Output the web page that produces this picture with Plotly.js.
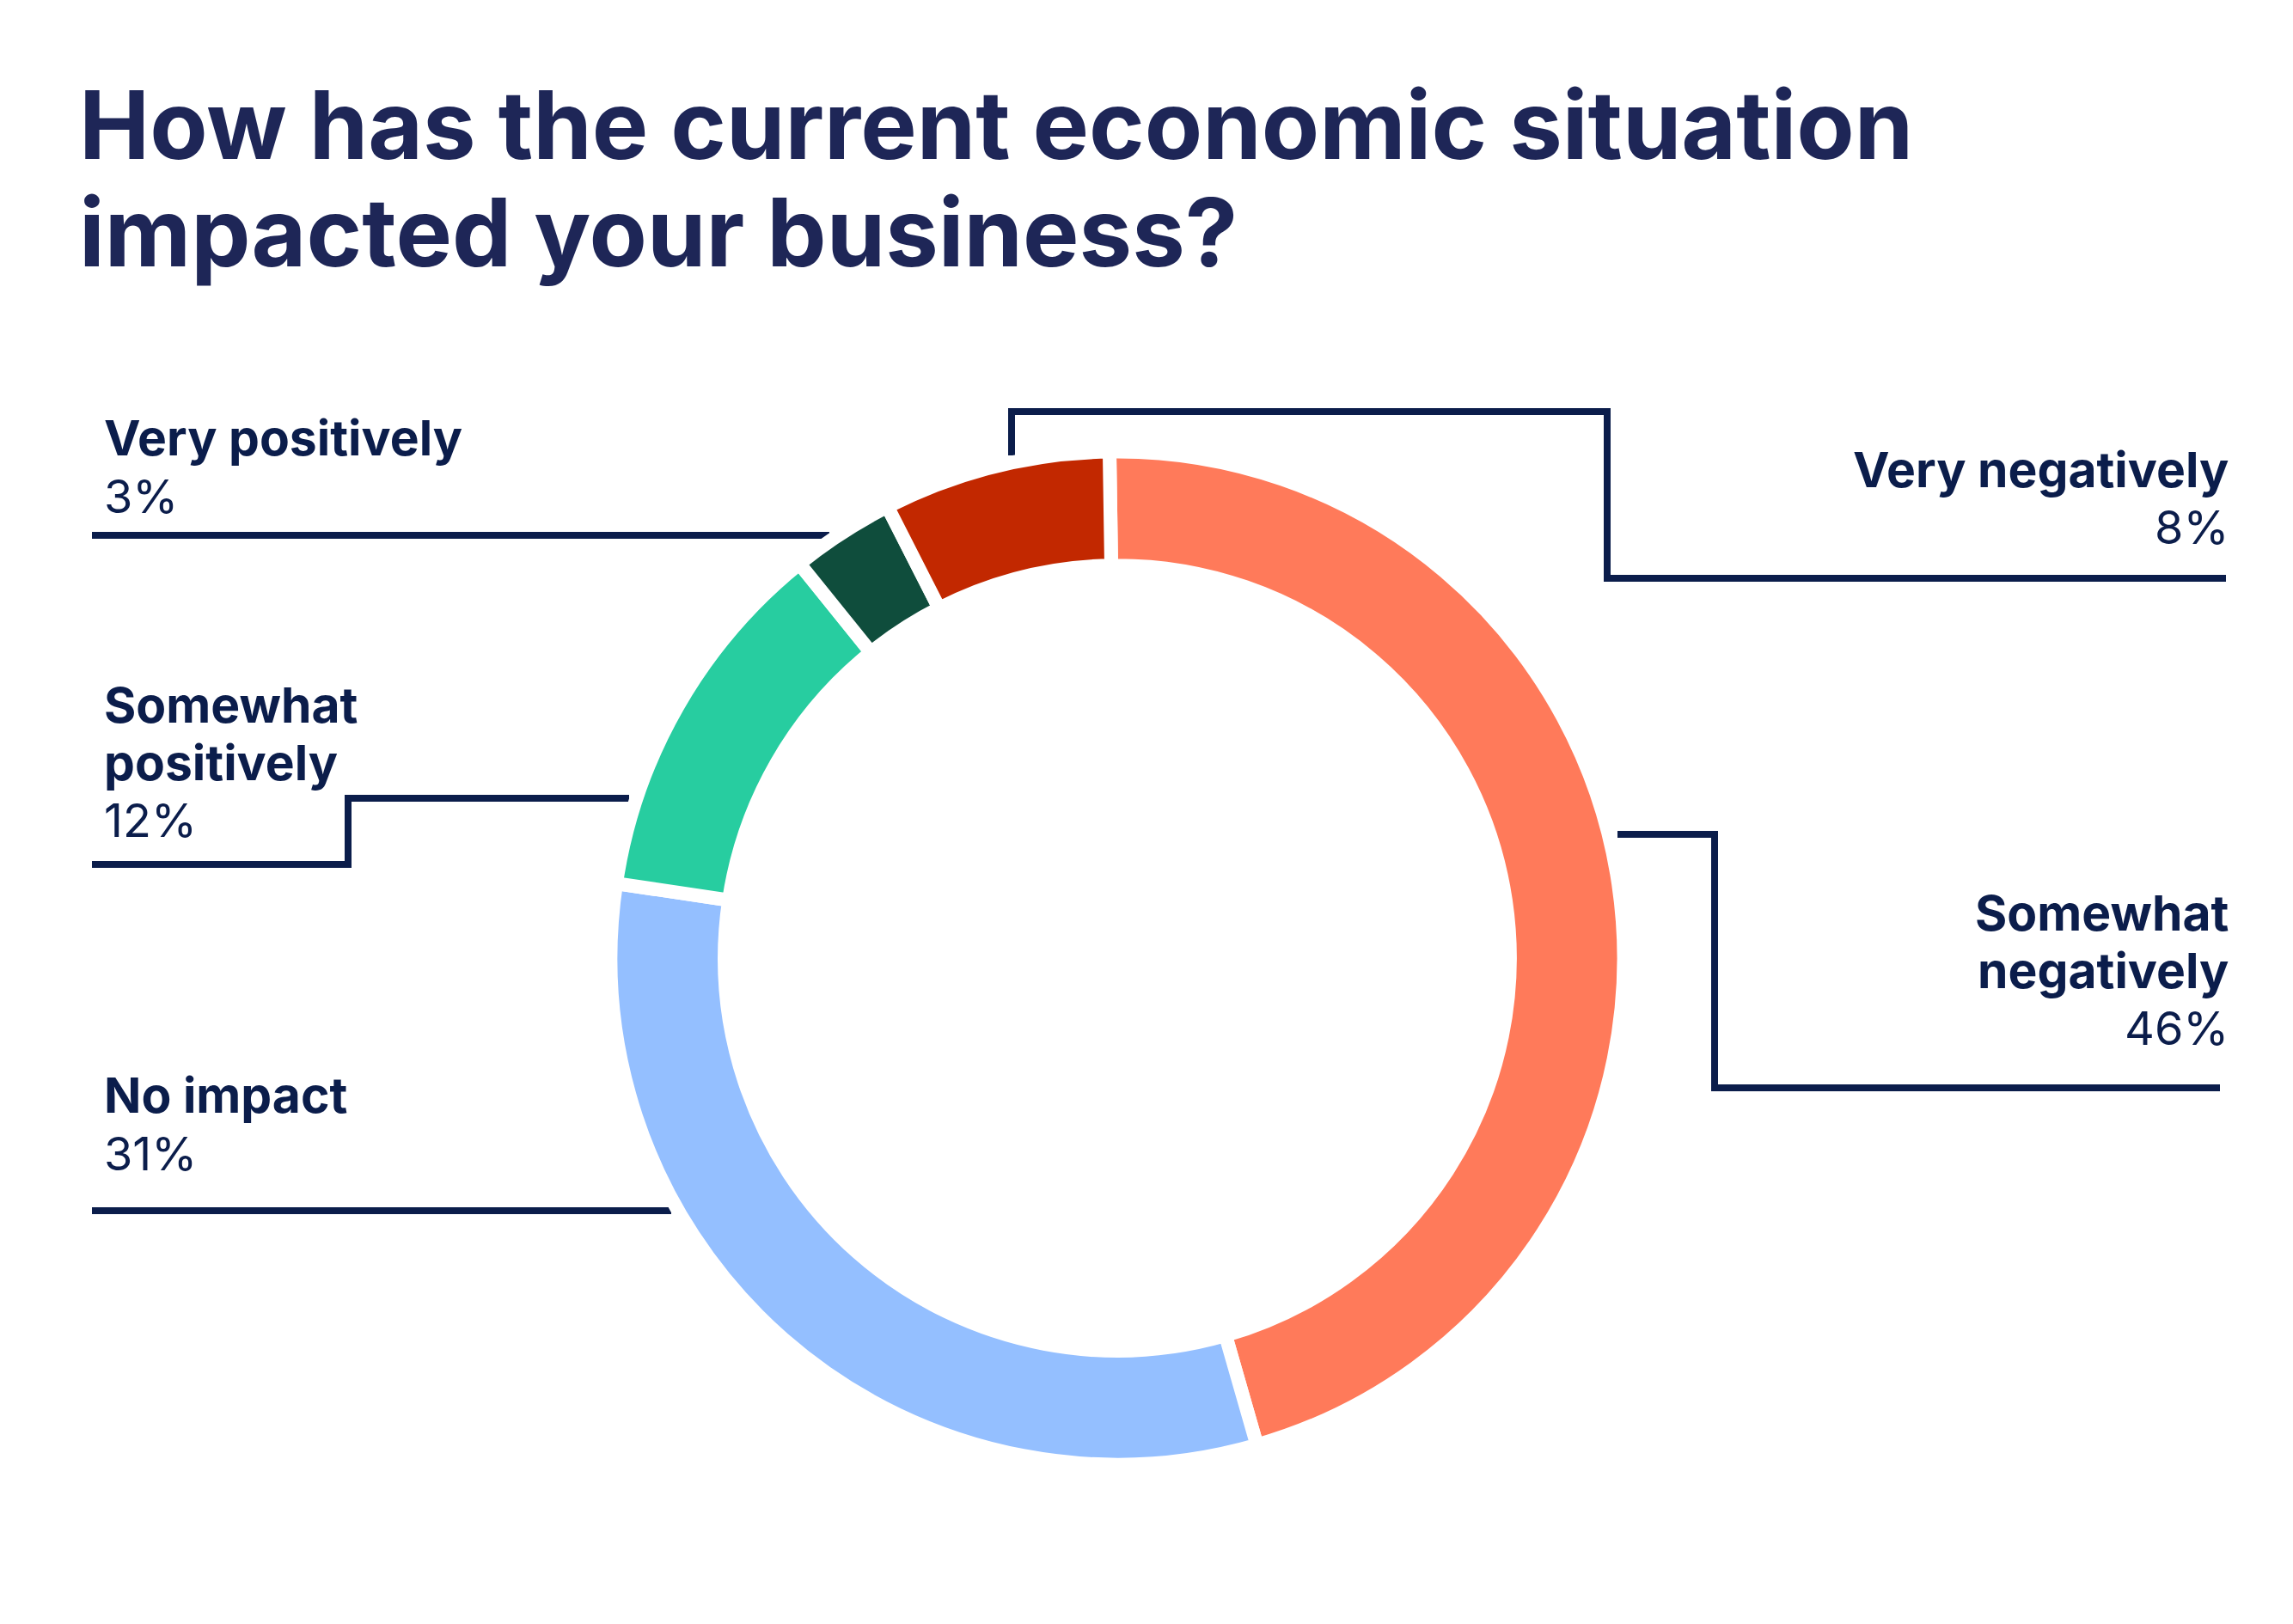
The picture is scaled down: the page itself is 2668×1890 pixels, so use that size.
<!DOCTYPE html>
<html>
<head>
<meta charset="utf-8">
<script src="https://cdn.plot.ly/plotly-3.0.1.min.js"></script>
<style>html,body{margin:0;padding:0;background:#fff;}#chart{width:2668px;height:1890px;}</style>
</head>
<body>
<div id="chart"></div>
<script>
// ---- data ----
const categories = ["Somewhat negatively", "No impact", "Somewhat positively", "Very positively", "Very negatively"];
// arc sizes
const values = [45.8, 31.8, 11.85, 3.3, 7.25];
// percentages as printed beside the chart
const pctLabels = ["46%", "31%", "12%", "3%", "8%"];
const colors = ["#FF7A5A", "#94BFFF", "#27CDA0", "#0F4D3C", "#C22800"];
const titleLines = ["How has the current economic situation", "impacted your business?"];
// label lines as shown beside the chart (same order as categories)
const labelLines = [["Somewhat", "negatively"], ["No impact"], ["Somewhat", "positively"], ["Very positively"], ["Very negatively"]];

// ---- layout helpers ----
const W = 2668, H = 1890;
const px = x => x / W;
const py = y => 1 - y / H;
const NAVY = "#0B1D4B";
const TITLE = "#1E2657";
const FONT = "Inter, 'Open Sans', sans-serif";

// label placement: [x, align, first cap-centre y, line step]
const labelPos = [
  [2595, "right", 1062, 67],
  [119, "left", 1274, 68],
  [119, "left", 820, 67],
  [119, "left", 510, 68],
  [2595, "right", 546, 67]
];
// leader lines in px
const leaders = [
  [[1882, 971], [1995, 971], [1995, 1266], [2583, 1266]],
  [[107, 1409], [781, 1409]],
  [[107, 1006], [405, 1006], [405, 929], [732, 929]],
  [[107, 623], [965, 623]],
  [[1177, 530], [1177, 479], [1870, 479], [1870, 673], [2590, 673]]
];

const cx = 1300, cy = 1115, R = 589.5;
const GAP = 16;

const annotations = [];
titleLines.forEach((t, i) => {
  annotations.push({
    text: t, xref: "paper", yref: "paper", x: px(90), y: py(145 + i * 125),
    xanchor: "left", yanchor: "middle", showarrow: false,
    font: {family: FONT, size: 110, color: TITLE, weight: 700}
  });
});
categories.forEach((c, i) => {
  const [x, align, y0, step] = labelPos[i];
  const lines = labelLines[i].concat([pctLabels[i]]);
  lines.forEach((t, j) => {
    const isPct = j === lines.length - 1;
    annotations.push({
      text: t, xref: "paper", yref: "paper", x: px(x), y: py(y0 + j * step),
      xanchor: align, yanchor: "middle", showarrow: false,
      font: {family: FONT, size: isPct ? 54 : 57, color: NAVY, weight: isPct ? 400 : 700}
    });
  });
});

const shapes = leaders.map(pts => ({
  type: "path", xref: "paper", yref: "paper", layer: "below",
  path: pts.map((p, k) => (k ? "L" : "M") + px(p[0]) + "," + py(p[1])).join(" "),
  line: {color: NAVY, width: 8}
}));

// gaps in the reference are cut from the end of each slice: shift by half a gap
const halfGapDeg = (GAP / 2) / (R * 0.885) * 180 / Math.PI;

const trace = {
  type: "pie",
  labels: categories,
  values: values,
  sort: false,
  direction: "clockwise",
  rotation: -halfGapDeg,
  hole: 0.775,
  marker: {colors: colors, line: {color: "#ffffff", width: GAP}},
  textinfo: "none",
  hoverinfo: "label+percent",
  showlegend: false,
  domain: {x: [px(cx - R), px(cx + R)], y: [py(cy + R), py(cy - R)]}
};

const layout = {
  width: W, height: H,
  margin: {l: 0, r: 0, t: 0, b: 0},
  paper_bgcolor: "#ffffff",
  plot_bgcolor: "#ffffff",
  showlegend: false,
  annotations: annotations,
  shapes: shapes
};

Plotly.newPlot("chart", [trace], layout, {displayModeBar: false, staticPlot: true});
</script>
</body>
</html>
